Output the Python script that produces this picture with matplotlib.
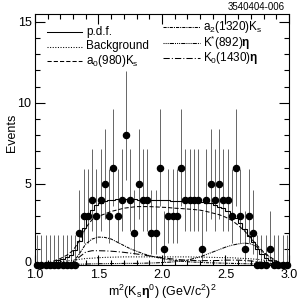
import numpy as np
import matplotlib
matplotlib.use("Agg")
import matplotlib.pyplot as plt
from matplotlib.transforms import ScaledTranslation

plt.rcParams['font.family'] = ['Liberation Sans', 'DejaVu Sans']
plt.rcParams['mathtext.fontset'] = 'custom'
plt.rcParams['mathtext.rm'] = 'Liberation Sans'
plt.rcParams['mathtext.it'] = 'Liberation Sans'
plt.rcParams['mathtext.bf'] = 'Liberation Sans:bold'

# ---- data -------------------------------------------------------------
bin_edges = np.linspace(1.0, 3.0, 61)
counts = [0, 0, 0, 0, 0, 0, 0, 0, 0, 0,
          2, 3, 3, 4, 3, 4, 5, 3, 6, 3,
          4, 8, 4, 2, 5, 4, 4, 2, 2, 6,
          1, 3, 3, 3, 6, 4, 4, 4, 4, 1,
          4, 5, 4, 5, 4, 4, 3, 6, 3, 1,
          3, 2, 0, 0, 0, 1, 0, 0, 0, 0]
# 68% Poisson (Garwood) interval per observed count
poisson_lo = [0.0, 0.173, 0.708, 1.367, 2.086, 2.840, 3.620, 4.419, 5.232]
poisson_hi = [1.841, 3.300, 4.638, 5.918, 7.163, 8.382, 9.584, 10.77, 11.95]

pdf_bins = [0, 0, 0, 0.1, 0.2, 0.3, 0.4, 0.5, 0.6, 0.9,
            1.5, 2.3, 3.0, 3.4, 3.7, 3.85, 3.95, 4.0, 4.02, 4.04,
            4.05, 4.05, 4.05, 4.04, 4.03, 4.02, 4.01, 4.0, 4.0, 4.0,
            3.99, 3.98, 3.97, 3.97, 3.96, 3.96, 3.95, 3.95, 3.9, 3.9,
            3.85, 3.8, 3.7, 3.6, 3.5, 3.35, 3.15, 2.9, 2.6, 2.2,
            1.8, 1.4, 1.0, 0.7, 0.45, 0.3, 0.2, 0.1, 0.05, 0.0]

curve_x = [1.00, 1.05, 1.10, 1.15, 1.20, 1.25, 1.30, 1.35, 1.40, 1.45,
           1.50, 1.55, 1.60, 1.65, 1.70, 1.75, 1.80, 1.85, 1.90, 1.95,
           2.00, 2.05, 2.10, 2.15, 2.20, 2.25, 2.30, 2.35, 2.40, 2.45,
           2.50, 2.55, 2.60, 2.65, 2.70, 2.75, 2.80, 2.85, 2.90, 2.95, 3.00]
background = [0, 0, 0.05, 0.15, 0.2, 0.25, 0.3, 0.35, 0.4, 0.42,
              0.45, 0.47, 0.48, 0.49, 0.5, 0.5, 0.5, 0.5, 0.5, 0.5,
              0.5, 0.5, 0.5, 0.5, 0.5, 0.49, 0.49, 0.48, 0.47, 0.46,
              0.45, 0.45, 0.42, 0.4, 0.38, 0.35, 0.3, 0.25, 0.18, 0.1, 0.0]
a0_980 = [0, 0, 0.1, 0.25, 0.4, 0.6, 0.9, 1.5, 2.3, 2.8,
          3.0, 3.15, 3.3, 3.4, 3.5, 3.55, 3.6, 3.6, 3.6, 3.58,
          3.56, 3.54, 3.5, 3.48, 3.45, 3.42, 3.38, 3.3, 3.2, 3.1,
          2.95, 2.75, 2.45, 2.1, 1.65, 1.2, 0.8, 0.5, 0.25, 0.1, 0.0]
a2_1320 = [0, 0, 0, 0, 0, 0, 0.15, 0.7, 1.3, 1.6,
           1.72, 1.7, 1.6, 1.4, 1.2, 1.0, 0.85, 0.7, 0.58, 0.48,
           0.4, 0.33, 0.28, 0.24, 0.2, 0.18, 0.16, 0.14, 0.13, 0.12,
           0.11, 0.1, 0.09, 0.08, 0.07, 0.06, 0.06, 0.05, 0.05, 0.02, 0.0]
kstar_892 = [0, 0, 0, 0, 0, 0, 0, 0.05, 0.06, 0.07,
             0.08, 0.08, 0.09, 0.09, 0.1, 0.1, 0.1, 0.11, 0.12, 0.13,
             0.15, 0.17, 0.2, 0.25, 0.3, 0.4, 0.5, 0.65, 0.8, 0.95,
             1.1, 1.22, 1.3, 1.35, 1.3, 1.1, 0.75, 0.45, 0.2, 0.05, 0.0]
k0_1430 = [0, 0, 0, 0, 0, 0, 0.1, 0.5, 0.8, 0.88,
           0.88, 0.87, 0.85, 0.82, 0.78, 0.73, 0.68, 0.62, 0.56, 0.5,
           0.45, 0.4, 0.36, 0.32, 0.3, 0.28, 0.27, 0.27, 0.27, 0.28,
           0.3, 0.3, 0.3, 0.28, 0.25, 0.2, 0.15, 0.1, 0.05, 0.02, 0.0]

# ---- figure -----------------------------------------------------------
fig = plt.figure(figsize=(2.99, 3.04), dpi=100)
ax = fig.add_axes([35/299, 1-265/304, (289-35)/299, (265-13.5)/304])

centers = 0.5 * (bin_edges[:-1] + bin_edges[1:])
counts_a = np.array(counts)
lo = np.array([poisson_lo[c] for c in counts])
hi = np.array([poisson_hi[c] for c in counts])
ax.vlines(centers, lo, hi, color='0.4', lw=0.7, zorder=2)

ax.stairs(pdf_bins, bin_edges, color='black', lw=0.8, zorder=3)
lw = 0.75
ax.plot(curve_x, background, color='black', lw=lw, ls=(0, (1, 1.5)), zorder=3)
ax.plot(curve_x, a0_980, color='black', lw=lw, ls=(0, (4, 2)), zorder=3)
ax.plot(curve_x, a2_1320, color='black', lw=lw, ls=(0, (3, 1, 1, 1)), zorder=3)
ax.plot(curve_x, kstar_892, color='black', lw=lw, ls=(0, (1, 1, 1, 1, 1, 1, 4, 1)), zorder=3)
ax.plot(curve_x, k0_1430, color='black', lw=lw, ls=(0, (6, 2, 1, 2)), zorder=3)

ax.plot(centers, counts_a, 'o', color='black', ms=4.4, zorder=4, clip_on=False)

ax.set_xlim(1.0, 3.0)
ax.set_ylim(0, 15.5)
ax.set_xticks([1.0, 1.5, 2.0, 2.5, 3.0])
ax.set_xticklabels(['1.0', '1.5', '2.0', '2.5', '3.0'])
ax.set_xticks(np.arange(1.0, 3.001, 0.1), minor=True)
ax.set_yticks([0, 5, 10, 15])
ax.set_yticks(np.arange(0, 16, 1), minor=True)
ax.tick_params(which='both', direction='in', top=True, right=True,
               labelsize=9, width=0.8)
ax.tick_params(axis='x', pad=3)
ax.tick_params(axis='y', pad=2.5)
ax.tick_params(which='major', length=7)
ax.tick_params(which='minor', length=3.5)
for s in ax.spines.values():
    s.set_linewidth(0.8)

# lift the "0" label slightly, as in the reference
zero_lbl = ax.get_yticklabels()[0]
zero_lbl.set_transform(zero_lbl.get_transform() + ScaledTranslation(0, 3/100, fig.dpi_scale_trans))

ax.set_ylabel('Events', fontsize=9)
ax.yaxis.set_label_coords(-0.067, 0.525)
ax.set_xlabel(r'm$^2$(K$_{\rm s}$$\mathbf{η}^0$) (GeV/c$^2$)$^2$', fontsize=9, labelpad=1)

fig.text(285/299, 1-7/304, '3540404-006', fontsize=7, ha='right', va='center')

# legend drawn manually
left_items = [('p.d.f.', '-'), ('Background', (0, (1, 1.5))), (r'a$_0$(980)K$_{\rm s}$', (0, (4, 2)))]
right_items = [(r'a$_2$(1320)K$_{\rm s}$', (0, (3, 1, 1, 1))),
               (r'K$^{*}$(892)$\mathbf{η}$', (0, (1, 1, 1, 1, 1, 1, 4, 1))),
               (r'K$_0$(1430)$\mathbf{η}$', (0, (6, 2, 1, 2)))]
for i, (lab, ls) in enumerate(left_items):
    y = 32 + i * 14.5
    fig.add_artist(plt.Line2D([47/299, 82/299], [1-y/304, 1-y/304], color='black', lw=lw, ls=ls))
    fig.text(86/299, 1-y/304, lab, fontsize=8.5, va='center', ha='left')
for i, (lab, ls) in enumerate(right_items):
    y = 27 + i * 15.5
    fig.add_artist(plt.Line2D([163/299, 200/299], [1-y/304, 1-y/304], color='black', lw=lw, ls=ls))
    fig.text(203/299, 1-y/304, lab, fontsize=8.5, va='center', ha='left')

fig.savefig('out.png', dpi=100)
